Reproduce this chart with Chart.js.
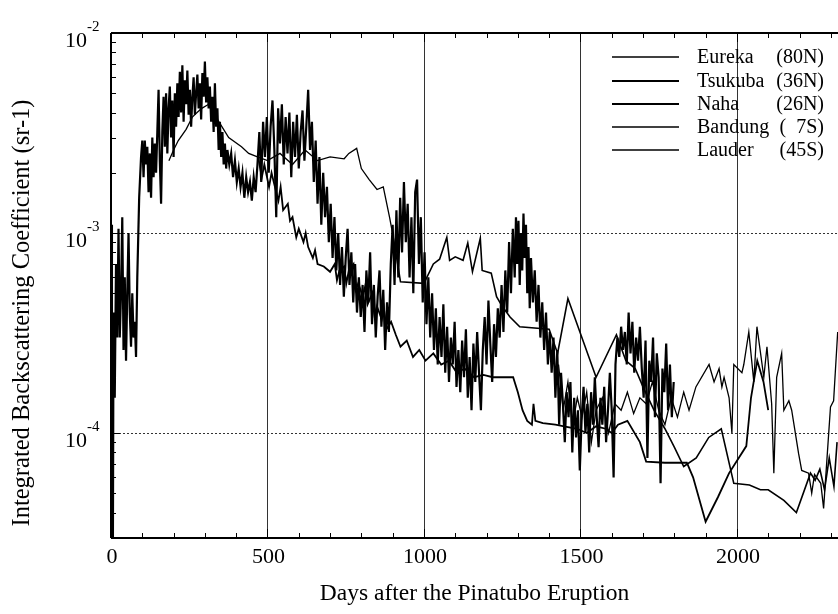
<!DOCTYPE html>
<html>
<head>
<meta charset="utf-8">
<script src="https://cdn.jsdelivr.net/npm/chart.js@4.4.0/dist/chart.umd.min.js"></script>
<style>
  html, body { margin: 0; padding: 0; background: #fff; }
  #wrap { width: 838px; height: 614px; }
</style>
</head>
<body>
<div id="wrap"><canvas id="chart" width="838" height="614"></canvas></div>
<script>
// days after eruption, backscatter (sr-1)
const seriesNames = ['Eureka', 'Tsukuba', 'Naha', 'Bandung', 'Lauder'];
const seriesLat = ['(80N)', '(36N)', '(26N)', '(  7S)', '(45S)'];

const eureka = [
    [185, 2.3e-3], [200, 2.6e-3], [215, 2.9e-3], [240, 3.3e-3], [260, 3.8e-3], [275, 4.0e-3],
    [290, 4.2e-3], [312, 4.4e-3], [340, 3.7e-3], [376, 3.0e-3], [417, 2.7e-3], [440, 2.5e-3],
    [468, 2.4e-3], [500, 2.3e-3], [540, 2.5e-3], [580, 2.2e-3], [620, 2.6e-3], [660, 2.3e-3],
    [700, 2.4e-3], [745, 2.35e-3], [760, 2.5e-3], [785, 2.65e-3], [800, 2.1e-3], [825, 1.85e-3],
    [850, 1.65e-3], [870, 1.7e-3], [890, 1.2e-3], [905, 9e-4]
];

const tsukuba = [
    [0, 1.1e-3], [3, 2.5e-4], [6, 2.5e-5], [8, 4e-4], [12, 1.5e-4], [16, 7e-4], [20, 3e-4],
    [24, 1.05e-3], [28, 3e-4], [32, 5e-4], [36, 1.2e-3], [40, 2.6e-4], [44, 6e-4], [48, 2.3e-4],
    [52, 5e-4], [56, 1.0e-3], [60, 4e-4], [64, 2.7e-4], [68, 5e-4], [72, 3e-4], [76, 3.6e-4],
    [80, 2.4e-4], [84, 6e-4], [90, 1.5e-3], [96, 2.4e-3], [100, 2.9e-3],
    [104, 1.9e-3], [108, 2.9e-3], [112, 2.2e-3], [116, 2.7e-3], [120, 1.6e-3], [124, 2.5e-3],
    [128, 1.5e-3], [132, 3.0e-3], [136, 1.9e-3], [140, 2.8e-3], [144, 2.0e-3], [148, 3.2e-3],
    [152, 5.2e-3], [156, 2.3e-3], [160, 1.4e-3], [164, 3.2e-3], [168, 4.8e-3], [172, 2.7e-3],
    [176, 5.0e-3], [180, 2.5e-3], [184, 4.2e-3], [188, 5.4e-3], [192, 3.0e-3], [196, 4.6e-3],
    [200, 2.4e-3], [204, 5.0e-3], [208, 3.4e-3], [212, 5.6e-3], [216, 3.8e-3], [220, 6.4e-3],
    [224, 4.0e-3], [228, 6.9e-3], [232, 3.6e-3], [236, 5.8e-3], [240, 4.4e-3], [244, 6.5e-3],
    [248, 3.9e-3], [252, 5.2e-3], [256, 3.4e-3], [260, 4.8e-3], [264, 6.0e-3], [268, 3.9e-3],
    [272, 5.0e-3], [276, 6.2e-3], [280, 4.2e-3], [284, 5.6e-3], [288, 3.7e-3], [292, 6.3e-3],
    [296, 4.8e-3], [300, 7.2e-3], [304, 4.5e-3], [308, 6.0e-3], [312, 4.2e-3], [316, 5.4e-3],
    [320, 3.6e-3], [324, 4.8e-3], [328, 3.2e-3], [332, 5.6e-3], [336, 3.4e-3], [340, 4.2e-3],
    [344, 2.6e-3], [348, 3.6e-3], [352, 2.4e-3], [356, 3.2e-3], [360, 2.2e-3], [364, 2.8e-3],
    [368, 2.1e-3], [372, 2.6e-3], [378, 2.2e-3], [384, 2.5e-3], [390, 1.9e-3], [396, 2.3e-3],
    [402, 1.8e-3], [408, 2.1e-3], [414, 1.7e-3], [420, 2.0e-3], [426, 1.5e-3], [432, 1.9e-3],
    [438, 1.6e-3], [444, 1.8e-3], [450, 1.45e-3], [456, 1.9e-3], [462, 1.6e-3], [468, 2.2e-3],
    [474, 3.2e-3], [480, 1.8e-3], [486, 3.6e-3], [492, 2.4e-3], [498, 3.8e-3], [504, 2.0e-3],
    [510, 3.4e-3], [516, 4.6e-3], [522, 2.6e-3], [528, 1.2e-3], [534, 4.2e-3], [540, 2.8e-3],
    [546, 4.4e-3], [552, 2.2e-3], [558, 3.8e-3], [564, 2.5e-3], [570, 4.0e-3], [576, 1.9e-3],
    [582, 3.6e-3], [588, 2.4e-3], [594, 3.9e-3], [600, 2.1e-3], [606, 3.2e-3], [612, 4.1e-3],
    [618, 2.3e-3], [624, 3.4e-3], [630, 5.2e-3], [636, 2.6e-3], [642, 3.6e-3], [648, 1.8e-3],
    [654, 2.9e-3], [660, 1.4e-3], [666, 2.4e-3], [672, 1.1e-3], [678, 2.0e-3], [684, 1.2e-3],
    [690, 1.7e-3], [696, 9e-4], [702, 1.4e-3], [708, 7.5e-4], [714, 1.2e-3], [720, 6.5e-4],
    [726, 1.0e-3], [732, 5.5e-4], [738, 8.5e-4], [744, 4.8e-4], [750, 7.5e-4], [756, 1.05e-3],
    [762, 5.5e-4], [768, 8e-4], [774, 4.5e-4], [780, 7e-4], [786, 4.0e-4], [792, 6e-4],
    [798, 3.8e-4], [804, 5.5e-4], [810, 3.2e-4], [816, 6.5e-4], [822, 4.5e-4], [828, 8e-4],
    [834, 3.5e-4], [840, 5.5e-4], [846, 3.0e-4], [852, 4.8e-4], [858, 6.5e-4], [864, 3.4e-4],
    [870, 5.2e-4], [876, 2.6e-4], [882, 4.5e-4], [888, 3.2e-4], [894, 7e-4], [900, 1.1e-3],
    [906, 5.5e-4], [912, 1.3e-3], [918, 6e-4], [924, 1.5e-3], [930, 8e-4], [936, 1.8e-3],
    [942, 9e-4], [948, 1.4e-3], [954, 6e-4], [960, 1.2e-3], [966, 5e-4], [972, 1.6e-3],
    [978, 1.85e-3], [984, 7e-4], [990, 1.2e-3], [996, 4.5e-4], [1002, 8e-4], [1008, 3.5e-4],
    [1014, 6e-4], [1020, 3.0e-4], [1026, 5e-4], [1032, 2.6e-4], [1038, 4.2e-4], [1044, 2.2e-4],
    [1050, 3.8e-4], [1056, 2.4e-4], [1062, 4.4e-4], [1068, 2.0e-4], [1074, 3.4e-4], [1080, 1.8e-4],
    [1086, 3.0e-4], [1092, 2.2e-4], [1098, 3.6e-4], [1104, 1.7e-4], [1110, 2.6e-4], [1116, 1.6e-4],
    [1122, 2.9e-4], [1128, 1.9e-4], [1134, 3.3e-4], [1140, 1.5e-4], [1146, 2.4e-4], [1152, 1.3e-4],
    [1158, 2.8e-4], [1164, 1.8e-4], [1170, 3.2e-4], [1176, 2.0e-4], [1182, 1.3e-4], [1188, 2.6e-4],
    [1194, 3.8e-4], [1200, 2.2e-4], [1206, 4.6e-4], [1212, 2.8e-4], [1218, 1.8e-4], [1224, 3.5e-4],
    [1230, 2.4e-4], [1236, 4.2e-4], [1242, 3.0e-4], [1248, 5.5e-4], [1254, 3.2e-4], [1260, 6.5e-4],
    [1266, 4.0e-4], [1272, 9e-4], [1278, 5e-4], [1284, 1.05e-3], [1290, 6e-4], [1294, 1.2e-3],
    [1298, 7e-4], [1302, 1.15e-3], [1306, 5.5e-4], [1310, 1.0e-3], [1314, 6.5e-4], [1318, 1.25e-3],
    [1322, 7.5e-4], [1326, 1.1e-3], [1330, 5e-4], [1334, 8.5e-4], [1338, 4.2e-4], [1342, 7.5e-4],
    [1348, 4.5e-4], [1354, 6.5e-4], [1360, 3.6e-4], [1366, 5.5e-4], [1372, 3.0e-4], [1378, 4.5e-4],
    [1384, 2.6e-4], [1390, 4.0e-4], [1396, 2.2e-4], [1402, 3.2e-4], [1408, 2.0e-4], [1414, 3.0e-4],
    [1420, 1.5e-4], [1426, 2.6e-4], [1432, 1.1e-4], [1438, 2.0e-4], [1444, 1.4e-4], [1450, 9e-5],
    [1456, 1.6e-4], [1462, 1.2e-4], [1468, 1.8e-4], [1474, 8e-5], [1480, 1.5e-4], [1486, 9.5e-5],
    [1492, 1.3e-4], [1498, 6.5e-5], [1504, 1.2e-4], [1510, 1.7e-4], [1516, 1.0e-4], [1522, 1.4e-4],
    [1528, 8e-5], [1534, 1.6e-4], [1540, 1.1e-4], [1546, 1.9e-4], [1552, 1.2e-4], [1558, 8.5e-5],
    [1564, 1.5e-4], [1570, 1.1e-4], [1576, 1.7e-4], [1582, 9e-5], [1588, 1.3e-4], [1594, 2.0e-4],
    [1600, 1.3e-4], [1606, 6e-5], [1612, 2.2e-4], [1618, 3.0e-4], [1624, 2.4e-4], [1630, 3.4e-4],
    [1636, 2.6e-4], [1642, 3.2e-4], [1648, 2.2e-4], [1654, 4.0e-4], [1660, 2.5e-4], [1666, 3.6e-4],
    [1672, 2.0e-4], [1678, 3.0e-4], [1684, 2.3e-4], [1690, 3.4e-4], [1696, 2.1e-4], [1702, 1.5e-4],
    [1708, 2.9e-4], [1714, 7.5e-5], [1720, 2.3e-4], [1726, 1.8e-4], [1732, 3.0e-4], [1738, 1.2e-4],
    [1744, 2.5e-4], [1750, 1.9e-4], [1756, 5.6e-5], [1762, 2.1e-4], [1768, 1.6e-4], [1774, 2.8e-4],
    [1780, 1.3e-4], [1786, 2.2e-4], [1792, 1.2e-4], [1798, 1.8e-4]
];

const naha = [
    [470, 2.4e-3], [482, 1.9e-3], [490, 2.2e-3], [505, 1.7e-3], [513, 2.0e-3], [520, 1.8e-3],
    [535, 1.45e-3], [542, 1.7e-3], [550, 1.3e-3], [565, 1.4e-3], [572, 1.15e-3], [580, 1.2e-3],
    [592, 9.5e-4], [600, 1.05e-3], [615, 9e-4], [622, 1.0e-3], [630, 8.5e-4], [645, 7.5e-4],
    [652, 8.2e-4], [660, 7.0e-4], [680, 6.8e-4], [700, 6.4e-4], [715, 7e-4], [722, 5.8e-4],
    [730, 6.5e-4], [745, 6.8e-4], [752, 5.6e-4], [760, 6.5e-4], [775, 7.0e-4], [782, 5.2e-4],
    [790, 5.6e-4], [805, 4.8e-4], [812, 5.4e-4], [820, 4.4e-4], [835, 5.0e-4], [842, 3.9e-4],
    [850, 4.3e-4], [865, 3.7e-4], [872, 4.2e-4], [880, 3.3e-4], [895, 3.6e-4], [910, 3.1e-4],
    [925, 2.7e-4], [945, 2.9e-4], [965, 2.4e-4], [985, 2.6e-4], [1005, 2.3e-4], [1030, 2.5e-4],
    [1055, 2.2e-4], [1080, 2.3e-4], [1105, 2.0e-4], [1130, 2.1e-4], [1160, 1.9e-4], [1190, 1.95e-4],
    [1220, 1.9e-4], [1250, 1.9e-4], [1285, 1.9e-4], [1300, 1.6e-4], [1315, 1.3e-4], [1330, 1.15e-4],
    [1345, 1.1e-4], [1350, 1.4e-4], [1356, 1.15e-4], [1380, 1.12e-4], [1420, 1.1e-4], [1460, 1.07e-4],
    [1490, 1.05e-4], [1520, 1.0e-4], [1550, 1.08e-4], [1580, 1.05e-4], [1600, 1.0e-4], [1620, 1.1e-4],
    [1650, 1.15e-4], [1690, 9e-5], [1710, 7.2e-5], [1770, 7.1e-5], [1840, 7.1e-5], [1860, 6.0e-5],
    [1900, 3.6e-5], [1940, 4.8e-5], [1975, 6.3e-5], [2030, 8.6e-5], [2045, 1.5e-4], [2065, 2.3e-4],
    [2085, 1.8e-4], [2100, 1.3e-4]
];

const bandung = [
    [1430, 2.2e-4], [1445, 1.3e-4], [1460, 1.8e-4], [1475, 1.1e-4], [1490, 1.5e-4], [1505, 1.2e-4],
    [1520, 1.6e-4], [1535, 9e-5], [1550, 1.3e-4], [1570, 1.5e-4], [1590, 1.0e-4], [1610, 1.4e-4],
    [1630, 1.3e-4], [1650, 1.6e-4], [1670, 1.25e-4], [1690, 1.5e-4], [1710, 1.4e-4], [1730, 1.8e-4],
    [1750, 1.3e-4], [1770, 1.1e-4], [1790, 1.5e-4], [1810, 1.2e-4], [1830, 1.6e-4], [1847, 1.3e-4],
    [1869, 1.7e-4], [1911, 2.2e-4], [1927, 1.8e-4], [1943, 2.1e-4], [1952, 1.7e-4], [1959, 1.9e-4],
    [1975, 1.5e-4], [1984, 1.0e-4], [1990, 2.2e-4], [2016, 2.0e-4], [2022, 2.2e-4], [2038, 3.2e-4],
    [2054, 1.8e-4], [2064, 3.4e-4], [2086, 1.9e-4], [2096, 2.7e-4], [2111, 1.4e-4], [2118, 6.3e-5],
    [2127, 1.9e-4], [2143, 2.5e-4], [2150, 1.3e-4], [2166, 1.45e-4], [2175, 1.3e-4], [2197, 7.9e-5],
    [2207, 6.5e-5], [2229, 6.3e-5], [2239, 5.0e-5], [2248, 6.2e-5], [2268, 5.6e-5], [2277, 4.2e-5],
    [2299, 1.35e-4], [2309, 1.45e-4], [2322, 3.2e-4]
];

const lauder = [
    [905, 9e-4], [925, 5.7e-4], [1000, 5.6e-4], [1030, 7.0e-4], [1050, 7.4e-4], [1073, 9.5e-4],
    [1082, 7.3e-4], [1100, 7.6e-4], [1125, 7.3e-4], [1140, 8.9e-4], [1155, 6.4e-4], [1180, 9.4e-4],
    [1186, 6.5e-4], [1215, 6.3e-4], [1232, 4.8e-4], [1250, 4.3e-4], [1275, 3.8e-4], [1306, 3.4e-4],
    [1400, 3.3e-4], [1427, 2.5e-4], [1460, 4.7e-4], [1550, 1.9e-4], [1615, 3.1e-4], [1645, 2.3e-4],
    [1675, 2.1e-4], [1700, 1.7e-4], [1735, 1.3e-4], [1770, 1.05e-4], [1800, 8.5e-5], [1830, 6.8e-5],
    [1870, 7.5e-5], [1910, 9.5e-5], [1950, 1.05e-4], [1990, 5.6e-5], [2040, 5.5e-5], [2075, 5.2e-5],
    [2100, 5.2e-5], [2150, 4.6e-5], [2190, 4.0e-5], [2235, 6.3e-5], [2250, 5.8e-5], [2265, 6.6e-5],
    [2280, 5.2e-5], [2295, 7.5e-5], [2310, 5.4e-5], [2320, 9e-5]
];

const xTicks = [0, 500, 1000, 1500, 2000];
const yTicks = [1e-2, 1e-3, 1e-4];
const yTickExp = ['-2', '-3', '-4'];

const allSeries = [eureka, tsukuba, naha, bandung, lauder];
const lineWidths = [1.3, 2.2, 1.8, 1.3, 1.6];
const serif = '"Liberation Serif", "Times New Roman", serif';

function hline(ctx, x1, y1, x2, y2) {
    ctx.beginPath();
    ctx.moveTo(x1, y1);
    ctx.lineTo(x2, y2);
    ctx.stroke();
}

// grid lines under the data
const gridPlugin = {
    id: 'gridPlugin',
    beforeDatasetsDraw(chart) {
        const { ctx, chartArea: a, scales: { x, y } } = chart;
        ctx.save();
        ctx.strokeStyle = '#333';
        ctx.lineWidth = 1;
        xTicks.slice(1).forEach(d => {
            const px = Math.round(x.getPixelForValue(d)) + 0.5;
            hline(ctx, px, a.top, px, a.bottom);
        });
        ctx.setLineDash([2, 2]);
        yTicks.slice(1).forEach(v => {
            const py = Math.round(y.getPixelForValue(v)) + 0.5;
            hline(ctx, a.left, py, a.right, py);
        });
        ctx.restore();
    }
};

// frame, ticks, labels and legend
const axesPlugin = {
    id: 'axesPlugin',
    afterDraw(chart) {
        const { ctx, chartArea: a, scales: { x, y } } = chart;
        ctx.save();
        ctx.strokeStyle = '#000';
        ctx.fillStyle = '#000';

        // frame (right side is cut off in the original)
        ctx.lineWidth = 2;
        hline(ctx, a.left, a.top, a.right, a.top);
        hline(ctx, a.left, a.top, a.left, a.bottom);
        hline(ctx, a.left, a.bottom, a.right, a.bottom);

        // x ticks every 100 days, top and bottom
        ctx.lineWidth = 1;
        for (let d = 100; d <= 2300; d += 100) {
            const px = Math.round(x.getPixelForValue(d)) + 0.5;
            const len = d % 500 === 0 ? 9 : 5;
            hline(ctx, px, a.bottom, px, a.bottom - len);
            hline(ctx, px, a.top, px, a.top + len);
        }
        // y ticks, log minor
        for (let e = -5; e <= -3; e++) {
            for (let m = 1; m <= 9; m++) {
                const v = m * Math.pow(10, e);
                if (v < y.min || v > y.max) continue;
                const py = Math.round(y.getPixelForValue(v)) + 0.5;
                hline(ctx, a.left, py, a.left + (m === 1 ? 9 : 5), py);
            }
        }

        // x tick labels
        ctx.font = '22px ' + serif;
        ctx.textAlign = 'center';
        ctx.textBaseline = 'middle';
        xTicks.forEach(d => {
            ctx.fillText(String(d), x.getPixelForValue(d) + 1, 557);
        });

        // y tick labels 10^-n
        yTicks.forEach((v, i) => {
            const py = y.getPixelForValue(v);
            ctx.font = '22px ' + serif;
            ctx.textAlign = 'right';
            ctx.fillText('10', 87, py + 8);
            ctx.font = '15px ' + serif;
            ctx.textAlign = 'left';
            ctx.fillText(yTickExp[i], 87, py - 6);
        });

        // axis titles
        ctx.font = '23.5px ' + serif;
        ctx.textAlign = 'center';
        ctx.fillText('Days after the Pinatubo Eruption', (a.left + a.right) / 2, 594);
        ctx.save();
        ctx.translate(23, 313);
        ctx.rotate(-Math.PI / 2);
        ctx.font = '24.5px ' + serif;
        ctx.fillText('Integrated Backscattering Coefficient (sr-1)', 0, 0);
        ctx.restore();

        // legend
        const legendY = [57, 81, 104, 127, 150];
        ctx.font = '20px ' + serif;
        seriesNames.forEach((name, i) => {
            const ly = legendY[i];
            ctx.lineWidth = lineWidths[i];
            hline(ctx, 612, ly, 679, ly);
            ctx.textAlign = 'left';
            ctx.fillText(name, 697, ly + 1);
            ctx.textAlign = 'right';
            ctx.fillText(seriesLat[i], 824, ly + 1);
        });
        ctx.restore();
    }
};

const datasets = allSeries.map((s, i) => ({
    label: seriesNames[i] + ' ' + seriesLat[i],
    data: s.map(p => ({ x: p[0], y: p[1] })),
    borderColor: '#000',
    borderWidth: lineWidths[i],
    pointRadius: 0,
    tension: 0,
    fill: false
}));

new Chart(document.getElementById('chart'), {
    type: 'line',
    data: { datasets: datasets },
    options: {
        responsive: false,
        animation: false,
        devicePixelRatio: 1,
        layout: { padding: { left: 111, right: 0, top: 33, bottom: 76 } },
        plugins: { legend: { display: false }, tooltip: { enabled: false } },
        scales: {
            x: { type: 'linear', min: 0, max: 2323, display: false },
            y: { type: 'logarithmic', min: 2.985e-5, max: 1e-2, display: false }
        }
    },
    plugins: [gridPlugin, axesPlugin]
});
</script>
</body>
</html>
